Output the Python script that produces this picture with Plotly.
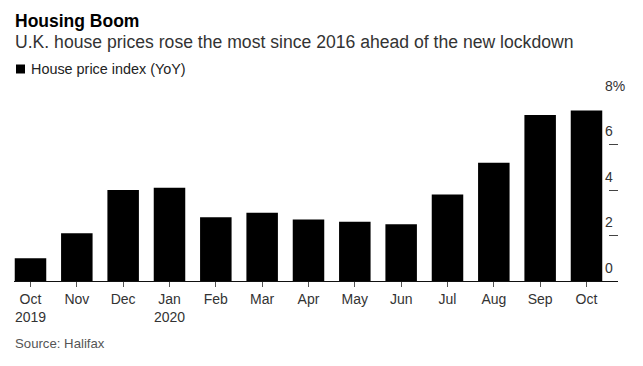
import plotly.graph_objects as go

# ---- data ----
months = ["Oct<br>2019", "Nov", "Dec", "Jan<br>2020", "Feb", "Mar", "Apr",
          "May", "Jun", "Jul", "Aug", "Sep", "Oct"]
hpi_yoy = [1.0, 2.1, 4.0, 4.1, 2.8, 3.0, 2.7, 2.6, 2.5, 3.8, 5.2, 7.3, 7.5]
y_tickvals = [0, 2, 4, 6, 8]
y_ticktext = ["0", "2", "4", "6", "8%"]

title = "Housing Boom"
subtitle = "U.K. house prices rose the most since 2016 ahead of the new lockdown"
legend_label = "House price index (YoY)"
source = "Source: Halifax"

# ---- layout geometry ----
W, H = 643, 366
ML, MR, MT, MB = 14, 25, 99, 85
PW, PH = W - ML - MR, H - MT - MB
FONT = "Liberation Sans, Arial, sans-serif"


def px(x):
    return (x - ML) / PW


def py(y):
    return (H - MB - y) / PH


x_idx = list(range(len(months)))

fig = go.Figure()
fig.add_trace(go.Bar(
    x=x_idx, y=hpi_yoy, marker=dict(color="#000000", line=dict(width=0)),
    width=0.68, showlegend=False, name=legend_label,
))

fig.update_layout(
    width=W, height=H,
    margin=dict(l=ML, r=MR, t=MT, b=MB),
    paper_bgcolor="white", plot_bgcolor="white",
    font=dict(family=FONT, color="#333333"),
    xaxis=dict(
        range=[-0.356, 12.68], tickvals=x_idx, ticktext=months,
        showgrid=False, zeroline=False, showline=True, linecolor="#111111",
        linewidth=1, ticks="outside", ticklen=5, tickcolor="#555555",
        automargin=False,
        tickfont=dict(size=14, color="#333333", family=FONT),
    ),
    yaxis=dict(
        side="right", range=[0, 8], tickvals=y_tickvals, ticktext=y_ticktext,
        showgrid=False, zeroline=False, showline=False,
        ticks="inside", ticklen=9, tickcolor="#444444", tickwidth=1,
        ticklabelshift=-13, ticklabelstandoff=-14, automargin=False,
        tickfont=dict(size=14, color="#333333", family=FONT),
    ),
    annotations=[
        dict(text=f"<b>{title}</b>", xref="paper", yref="paper", x=px(13), y=py(21),
             xanchor="left", yanchor="middle", showarrow=False,
             font=dict(size=17.5, color="#000000", family=FONT)),
        dict(text=subtitle, xref="paper", yref="paper", x=px(13), y=py(42),
             xanchor="left", yanchor="middle", showarrow=False,
             font=dict(size=17.6, color="#333333", family=FONT)),
        dict(text=legend_label, xref="paper", yref="paper", x=px(29), y=py(69),
             xanchor="left", yanchor="middle", showarrow=False,
             font=dict(size=14.4, color="#222222", family=FONT)),
        dict(text=source, xref="paper", yref="paper", x=px(13), y=py(343),
             xanchor="left", yanchor="middle", showarrow=False,
             font=dict(size=13.2, color="#555555", family=FONT)),
    ],
    shapes=[
        dict(type="rect", xref="paper", yref="paper",
             x0=px(16), x1=px(25), y0=py(73.5), y1=py(64.5),
             fillcolor="#000000", line=dict(width=0)),
    ],
)

fig.write_html("out.html", config={"displayModeBar": False},
               post_script="document.body.style.margin='0';")
